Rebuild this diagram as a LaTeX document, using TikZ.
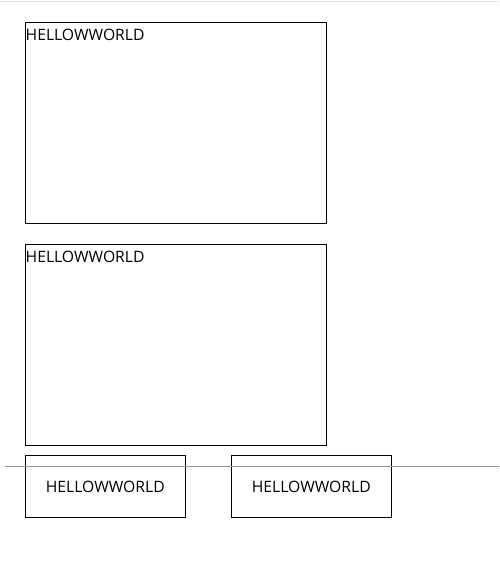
\documentclass[tikz,border=0pt]{standalone}
\usepackage{fontspec}
\setmainfont{Open Sans}
\begin{document}
\begin{tikzpicture}[x=1pt,y=-1pt,
  frame/.style={draw=black,line width=1pt},
  lbl/.style={inner sep=0pt,font=\fontsize{15.7}{18}\selectfont},
  smallbox/.style={draw=black,line width=1pt,minimum width=160pt,minimum height=62pt,inner sep=0pt,text depth=0pt,font=\fontsize{15.7}{18}\selectfont}]
\useasboundingbox (0,0) rectangle (499,577);
\draw[draw={rgb,255:red,229;green,229;blue,229},line width=1.5pt] (0,1.5) -- (499,1.5);
\node[frame,minimum width=301pt,minimum height=201pt,anchor=north west,inner sep=0pt] (b1) at (24.8,21.8) {};
\node[lbl,anchor=base west] (t1) at ([xshift=0.7pt,yshift=-19pt]b1.north west) {HELLOWWORLD};
\node[frame,minimum width=301pt,minimum height=201pt,anchor=north west,inner sep=0pt] (b2) at (24.8,243.8) {};
\node[lbl,anchor=base west] (t2) at ([xshift=0.7pt,yshift=-19pt]b2.north west) {HELLOWWORLD};
\node[smallbox,anchor=north west] (b3) at (24.8,454.8) {};
\node[smallbox,anchor=north west] (b4) at (230.8,454.8) {};
\node[lbl] (t3) at ([yshift=-1pt]b3.center) {HELLOWWORLD};
\node[lbl] (t4) at ([yshift=-1pt]b4.center) {HELLOWWORLD};
\coordinate (l1) at (5,466);
\coordinate (l2) at (499,466);
\draw[draw={rgb,255:red,153;green,153;blue,153},line width=1pt] (l1) -- (l2);
\end{tikzpicture}
\end{document}
